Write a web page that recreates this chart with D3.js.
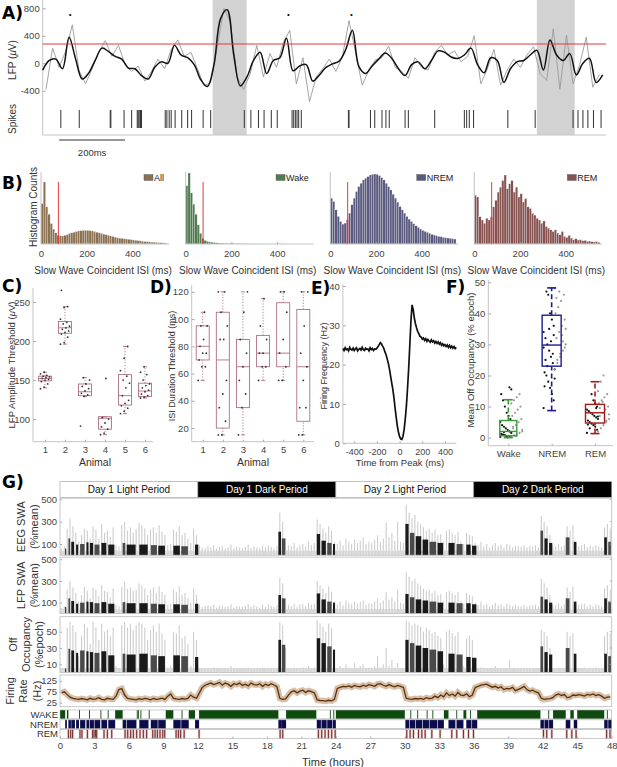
<!DOCTYPE html>
<html lang="en">
<head>
<meta charset="UTF-8">
<title>Slow wave off periods</title>
<script src="https://d3js.org/d3.v7.min.js"></script>
<style>
  body { margin: 0; background: #fff; }
  svg { display: block; font-family: "Liberation Sans", Arial, sans-serif; }
  .ax .tick text { fill: #444; font-size: 9.5px; font-family: "Liberation Sans", Arial, sans-serif; }
  .ax .tick line { stroke: #aaa; }
  .plet { font-family: "DejaVu Sans", sans-serif; font-weight: bold; font-size: 17px; fill: #000; }
</style>
</head>
<body>
<svg width="617" height="767"></svg>
<script>
// ---------- A: LFP trace and spikes ----------
const lfpStepMs = 20;
const lfpFiltered = [
  -100, 40, 60, -80, 380, 60, -230, -140, 50, 220,
  170, 100, 60, -70, -80, -180, -230, -60, 20, 0,
  260, 120, 80, -20, -240, -340, -20, 650, 780, 120,
  -330, -200, 40, 160, -150, 40, 80, 365, -110, -40,
  -20, -260, -170, -60, -10, 30, 200, 480, -50, -150,
  -40, 60, 150, 70, -80, -180, -20, 20, -80, 40,
  180, 160, 90, 70, 120, 220, -20, -140, 80, 40,
  -280, -80, 20, 40, 120, 190, -100, 340, 120, 40,
  140, -170, 0, 70, -280, -170
];
const lfpRawStartMs = 10;
const lfpRaw = [
  -380, 220, -60, 180, 560, -100, -300, -80, 160, 330,
  100, 260, -20, -120, -40, -260, -120, 60, -80, 200,
  340, 100, 160, -80, -330, -280, 240, 800, 600, -200,
  -380, -150, 260, -200, 140, -60, 300, 480, -300, 80,
  -560, -200, -80, 60, -120, 100, 620, 150, -320, -100,
  50, 80, 250, -60, -120, -220, 80, -60, -100, 160,
  260, 120, 180, 20, 100, 400, -300, -80, 200, -320,
  -100, 60, -60, 120, 240, -150, -250, 500, -380, 410,
  -300, -20, 380, -350, -160
];
const lfpThreshold = 280;
const spikeTimesMs = [55, 111, 205, 207, 247, 270, 287, 290, 293, 297, 300, 372, 377, 384, 390,
  402, 422, 440, 452, 487, 510, 612, 632, 655, 672, 694, 712, 757, 762, 767, 772, 777, 785,
  928, 930, 995, 1008, 1030, 1042, 1052, 1100, 1110, 1190, 1280, 1287, 1295, 1308, 1412,
  1495, 1610, 1625, 1640, 1655, 1672, 1695];
const offWindowsMs = [[516, 619], [1500, 1615]];
const peakMarksMs = [83, 746, 937];
const lfpTicks = [-400, 0, 400, 800];

// ---------- B: ISI histograms (10 ms bins, arbitrary counts) ----------
const isiBinMs = 10;
const isiCut = 76;
const isiAll = [650, 1000, 600, 480, 330, 240, 180, 140, 130, 130, 140, 150, 170, 180, 190, 200, 210, 215, 220, 220,
  220, 215, 210, 200, 190, 180, 170, 160, 150, 140, 130, 120, 110, 100, 95, 90, 85, 80, 75, 70,
  65, 60, 55, 50, 45, 40, 37, 34, 30, 28, 25, 22, 20, 18, 15];
const isiWake = [820, 1000, 720, 560, 420, 270, 150, 80, 50, 38, 30, 25, 20, 17, 14, 12, 10, 9, 8, 7,
  6, 5, 5, 4, 4, 3, 3, 3, 2, 2, 2, 2, 2, 1, 1, 1, 1, 1, 1, 1, 1, 1, 1, 0, 0, 0, 0, 0, 0, 0, 0, 0, 0, 0, 0];
const isiNrem = [138, 128, 103, 83, 68, 60, 63, 73, 93, 118, 138, 158, 173, 183, 193, 198, 203, 208, 210, 211,
  210, 206, 200, 193, 183, 173, 163, 150, 138, 126, 113, 103, 93, 83, 75, 68, 61, 55, 50, 45,
  41, 38, 35, 32, 29, 27, 25, 23, 22, 20, 19, 18, 17, 16, 15];
const isiRem = [148, 143, 83, 73, 63, 78, 73, 83, 113, 133, 158, 173, 193, 210, 168, 183, 193, 158, 173, 143,
  153, 128, 138, 113, 108, 93, 88, 78, 73, 63, 70, 53, 48, 43, 38, 43, 33, 28, 38, 23,
  20, 26, 18, 13, 16, 12, 13, 10, 11, 8, 9, 7, 6, 7, 5];
const isiTicks = [0, 200, 400];

// ---------- C: LFP amplitude threshold per animal ----------
const animals = [1, 2, 3, 4, 5, 6];
const ampBox = [ // [low whisker, q1, median, q3, high whisker]
  [140, 149, 152, 155, 160], [196, 210, 217, 225, 244], [129, 130, 135, 145, 153],
  [80, 87, 101, 103, 103], [107, 118, 130, 157, 193], [127, 129, 136, 146, 167]];
const ampPoints = [
  [139, 141, 145, 148, 150, 151, 152, 153, 154, 155, 156, 158, 160],
  [196, 198, 205, 209, 211, 213, 215, 217, 219, 222, 224, 228, 243, 244, 265],
  [91, 129, 131, 133, 136, 139, 142, 145, 150, 153],
  [80, 82, 87, 90, 95, 100, 102, 152],
  [107, 110, 114, 117, 120, 124, 130, 140, 146, 150, 155, 162, 178, 193],
  [127, 128, 130, 132, 135, 137, 140, 143, 145, 150, 157, 160, 167]];
const ampTicks = [100, 150, 200, 250];

// ---------- D: ISI duration threshold per animal ----------
const isiBox = [
  [55, 70, 80, 95, 105], [15, 20, 70, 105, 120], [15, 35, 65, 85, 120],
  [55, 65, 75, 88, 115], [55, 65, 75, 112, 120], [15, 25, 65, 107, 120]];
const isiPoints = [
  [55, 65, 65, 70, 75, 75, 80, 85, 95, 95, 105],
  [15, 15, 25, 35, 45, 55, 85, 85, 95, 105, 120, 120],
  [15, 35, 45, 55, 65, 75, 85, 105, 120],
  [55, 65, 65, 75, 75, 85, 95, 115],
  [55, 55, 65, 75, 85, 105, 120, 120],
  [15, 15, 35, 35, 55, 65, 75, 95, 120, 120]];
const durTicks = [20, 40, 60, 80, 100, 120];

// ---------- E: firing rate around LFP peak ----------
const peakStartMs = -500, peakStepMs = 10;
const peakRate = [
  24.1, 23.6, 24.3, 23.8, 24.0, 23.5, 24.4, 23.9, 23.7, 24.2, 23.6, 24.0, 24.3, 23.5, 23.9, 24.1,
  23.7, 24.4, 23.8, 23.6, 24.2, 23.9, 24.0, 23.5, 24.3, 23.8, 24.1, 23.6, 24.0, 23.9, 24.2,
  24.6, 25.1, 25.6, 25.3, 24.7, 24.2, 23.3, 22.6, 21.5, 20.4, 19.0, 17.2, 15.4, 13.8, 11.6, 9.0,
  6.6, 4.4, 2.8, 1.7, 1.1, 1.0, 1.8, 3.5, 6.2, 9.5, 14.0, 19.0, 25.0, 31.0, 35.2, 34.0, 31.8,
  30.4, 29.3, 28.4, 27.9, 27.2, 27.0, 26.5, 26.8, 26.2, 26.6, 25.9, 26.4, 26.0, 25.7, 26.3, 25.8,
  26.1, 25.5, 25.9, 25.4, 25.8, 25.2, 25.6, 24.9, 25.3, 24.8, 25.1, 24.6, 25.0, 24.4, 24.9, 24.3,
  24.7, 24.2, 24.6, 24.1, 24.4];
const peakXTicks = [-400, -200, 0, 200, 400];
const peakYTicks = [0, 10, 20, 30, 40];

// ---------- F: off occupancy by state ----------
const states = ["Wake", "NREM", "REM"];
const stateColors = ["#3a9a3a", "#1c1c8a", "#a01c1c"];
const occBox = [[0, 0.6, 2, 5.5, 12.2], [8.7, 23, 29.8, 39.4, 48.2], [1.3, 4.7, 8, 10.7, 18]];
const occA = [ // black points
  [0.2, 0.3, 0.5, 0.4, 0.8, 1.0, 1.2, 1.5, 2.0, 2.5, 3.0, 3.5, 4.0, 5.0, 6.0, 7.0, 8.0, 10.0, 12.0, 14.0, 15.5, 16.2, 0.1, 0.6, 1.8],
  [9.5, 12, 14, 16, 18, 20, 21, 22, 24, 26, 28, 30, 32, 34, 36, 38, 40, 46, 47, 16.5, 19, 27, 31, 35, 23, 25, 29, 33],
  [1.5, 2.5, 3.5, 4, 4.5, 5, 5.5, 6, 6.5, 7, 7.5, 8, 8.5, 9, 10, 11, 12, 14, 3, 4.2, 6.8, 9.5]];
const occB = [ // gray points
  [0.3, 0.7, 1.0, 1.5, 2.0, 3.0, 4.0, 5.0, 6.0, 7.0, 8.0, 9.0, 10.0, 11.0, 12.0, 13.0, 14.0, 2.5, 3.5, 0.5],
  [22, 24, 26, 28, 30, 32, 34, 36, 38, 40, 42, 44, 46, 48, 25, 27, 31, 35, 45, 47, 33, 29],
  [2, 3, 4, 5, 6, 7, 8, 9, 10, 11, 12, 13, 14, 15, 18, 20, 5.5, 7.5, 9.5, 11.5]];
const occTicks = [0, 10, 20, 30, 40, 50];

// ---------- G: 48 h recording ----------
const periods = ["Day 1 Light Period", "Day 1 Dark Period", "Day 2 Light Period", "Day 2 Dark Period"];
const periodHours = [[0, 12], [12, 24], [24, 36], [36, 48]];
const epochStepH = 0.25;
const eegSwa = [
  60, 80, 240, 330, 260, 200, 120, 180, 240, 220, 150, 260, 230, 150, 280, 200, 220, 160, 250, 90,
  80, 270, 300, 220, 250, 200, 230, 290, 270, 240, 180, 230, 250, 200, 270, 210, 180, 90, 100, 230,
  210, 260, 180, 200, 150, 110, 240, 180, 90, 70, 60, 80, 70, 90, 60, 75, 85, 60, 70, 95,
  60, 80, 70, 60, 75, 95, 65, 80, 70, 60, 85, 70, 90, 75, 60, 80, 380, 300, 150, 90,
  80, 110, 70, 90, 100, 80, 120, 90, 110, 320, 280, 240, 200, 260, 220, 120, 100, 130, 90, 150,
  120, 100, 140, 110, 130, 160, 100, 120, 110, 140, 180, 120, 150, 290, 160, 200, 130, 300, 120, 110,
  450, 380, 330, 360, 300, 280, 250, 220, 240, 200, 230, 180, 190, 120, 220, 230, 200, 180, 210, 120,
  100, 200, 180, 170, 110, 90, 120, 80, 100, 70, 90, 110, 80, 95, 70, 100, 90, 70, 85, 80,
  75, 90, 70, 85, 80, 90, 70, 350, 300, 260, 180, 90, 80, 100, 75, 90, 260, 220, 270, 100,
  80, 90, 100, 70, 85, 75, 90, 80, 70, 250, 280, 240];
const lfpSwa = [
  50, 70, 220, 300, 240, 190, 110, 170, 250, 210, 140, 240, 220, 160, 260, 210, 200, 150, 230, 80,
  70, 250, 290, 230, 240, 210, 220, 280, 260, 230, 170, 220, 240, 190, 250, 200, 170, 80, 90, 220,
  200, 250, 170, 190, 140, 100, 230, 170, 80, 60, 70, 75, 65, 80, 55, 70, 75, 60, 65, 85,
  55, 70, 65, 60, 70, 85, 60, 75, 65, 55, 80, 65, 85, 70, 60, 75, 330, 280, 140, 80,
  70, 90, 60, 80, 85, 70, 100, 80, 90, 300, 260, 230, 190, 250, 200, 110, 80, 110, 75, 120,
  100, 85, 110, 90, 105, 120, 80, 95, 90, 110, 140, 100, 120, 200, 130, 150, 110, 220, 100, 90,
  380, 340, 300, 320, 280, 260, 230, 210, 220, 190, 210, 170, 180, 110, 200, 210, 190, 170, 200, 110,
  90, 190, 170, 160, 100, 80, 110, 75, 90, 65, 80, 100, 75, 85, 65, 90, 80, 65, 75, 70,
  70, 80, 65, 75, 75, 80, 65, 320, 280, 240, 170, 80, 75, 90, 70, 85, 240, 200, 250, 90,
  75, 85, 90, 65, 80, 70, 85, 75, 65, 230, 260, 220];
const offOcc = [
  3, 5, 55, 62, 58, 50, 20, 45, 60, 55, 35, 62, 55, 40, 60, 50, 52, 45, 55, 8,
  5, 58, 62, 55, 60, 52, 58, 62, 60, 55, 40, 52, 58, 50, 60, 48, 40, 6, 8, 50,
  48, 58, 42, 45, 35, 8, 50, 40, 4, 3, 5, 3, 3, 6, 2, 4, 5, 3, 4, 8,
  3, 5, 4, 3, 4, 6, 3, 5, 3, 4, 6, 3, 5, 3, 4, 5, 62, 58, 30, 5,
  4, 6, 3, 5, 6, 4, 8, 5, 6, 64, 60, 56, 50, 60, 55, 20, 5, 8, 4, 10,
  6, 4, 12, 5, 8, 10, 4, 6, 5, 8, 20, 6, 10, 30, 8, 15, 6, 12, 4, 5,
  64, 62, 58, 60, 58, 56, 50, 55, 52, 48, 50, 45, 42, 10, 50, 52, 48, 45, 50, 20,
  8, 42, 45, 40, 5, 4, 6, 3, 4, 3, 5, 8, 3, 4, 2, 5, 15, 3, 4, 3,
  4, 5, 3, 4, 3, 5, 4, 52, 50, 45, 30, 5, 4, 6, 3, 5, 50, 45, 48, 6,
  4, 5, 6, 3, 5, 4, 6, 4, 3, 45, 50, 48];
const firingRate = [
  70, 75, 62, 50, 45, 42, 40, 44, 41, 38, 45, 40, 42, 48, 40, 38, 45, 42, 40, 55,
  85, 90, 60, 45, 42, 40, 38, 43, 40, 45, 42, 38, 44, 40, 42, 46, 40, 55, 65, 45,
  42, 40, 44, 41, 45, 60, 50, 45, 70, 95, 105, 110, 115, 108, 112, 118, 105, 115, 110, 100,
  112, 108, 115, 104, 110, 102, 115, 108, 106, 112, 100, 110, 104, 112, 106, 98, 45, 40, 42, 60,
  75, 80, 70, 78, 82, 72, 80, 76, 70, 38, 35, 34, 32, 36, 33, 40, 90, 95, 100, 98,
  102, 96, 104, 100, 98, 105, 100, 108, 104, 100, 110, 112, 105, 100, 108, 102, 98, 104, 100, 95,
  45, 42, 40, 44, 42, 45, 40, 48, 44, 46, 55, 48, 60, 52, 70, 58, 65, 55, 72, 60,
  58, 66, 52, 60, 95, 100, 105, 108, 110, 102, 96, 100, 92, 98, 85, 90, 88, 95, 80, 86,
  92, 100, 85, 78, 82, 74, 70, 45, 40, 42, 44, 48, 60, 65, 58, 62, 48, 50, 60, 58,
  62, 60, 55, 63, 60, 65, 58, 62, 55, 45, 50, 52];
const nremBouts = [
  [0.45, 0.6], [0.73, 0.95], [0.98, 1.3], [1.4, 1.65], [1.75, 2.2], [2.3, 2.55], [2.6, 2.95], [3.0, 3.5],
  [3.6, 4.1], [4.2, 4.8], [5.45, 5.75], [5.8, 6.65], [6.9, 7.7], [7.9, 8.5], [8.55, 9.2], [9.86, 10.5],
  [10.55, 11.2], [11.75, 12.1], [19.0, 19.3], [19.3, 19.67], [22.34, 22.7], [22.75, 23.2], [23.25, 23.7],
  [23.75, 24.0], [30.05, 30.4], [30.45, 30.9], [30.95, 31.5], [31.55, 32.1], [32.15, 32.8], [32.85, 33.4],
  [33.8, 34.4], [34.5, 35.1], [35.35, 35.8], [35.85, 36.3], [41.8, 42.1], [42.15, 42.5], [42.55, 42.9],
  [44.0, 44.4], [44.7, 45.0], [47.35, 47.65], [47.7, 48.0]];
const eegNrem = [60, 150, 120, 95, 100, 115, 110, 95, 110, 95, 110, 95, 95, 90, 85, 85, 80, 95, 210, 150,
  190, 130, 110, 100, 280, 200, 170, 140, 120, 110, 110, 100, 95, 85, 220, 150, 110, 160, 120, 160, 120];
const lfpNrem = [60, 140, 115, 90, 100, 110, 105, 95, 105, 90, 105, 95, 95, 90, 85, 85, 80, 90, 170, 140,
  185, 130, 110, 100, 180, 150, 130, 120, 110, 100, 100, 95, 95, 85, 155, 130, 100, 140, 110, 140, 110];
const offNrem = [5, 29, 27, 24, 27, 26, 25, 24, 26, 21, 23, 22, 23, 21, 20, 21, 20, 19, 40, 34,
  42, 36, 32, 28, 40, 36, 33, 30, 28, 26, 23, 22, 19, 18, 32, 25, 22, 30, 23, 23, 20];
const wakeBouts = [
  [0, 0.45], [0.6, 0.73], [1.66, 1.72], [2.53, 2.58], [3.52, 3.58], [4.15, 4.2], [4.8, 5.45], [6.68, 6.72],
  [6.78, 6.82], [7.0, 7.04], [7.72, 7.78], [9.2, 9.86], [10.58, 10.62], [11.2, 11.75], [12.1, 19.0],
  [19.67, 22.3], [23.48, 23.52], [23.78, 23.82], [24.0, 30.0], [30.48, 30.52], [31.08, 31.12], [31.9, 31.94],
  [32.4, 32.44], [33.4, 33.8], [34.48, 34.52], [35.1, 35.35], [35.68, 35.72], [36.3, 41.8], [42.48, 42.52],
  [42.9, 44.0], [44.4, 44.7], [45.0, 47.35], [47.58, 47.62]];
const remTimes = [0.73, 0.93, 1.10, 1.74, 1.91, 2.38, 2.84, 2.96, 3.08, 3.19, 3.83, 4.12, 4.50, 5.66, 5.89,
  6.15, 6.38, 6.67, 6.96, 7.25, 7.54, 8.07, 8.27, 8.47, 8.70, 8.94, 9.11, 10.1, 10.3, 10.5, 10.8, 12.1,
  19.15, 19.38, 22.48, 22.77, 23.06, 23.35, 23.64, 23.94, 30.17, 30.46, 30.75, 31.19, 31.48, 31.77, 32.35,
  33.07, 34.09, 34.52, 35.1, 35.54, 35.97, 42.06, 42.35, 42.79, 44.09, 44.53, 44.9, 47.56, 47.85];
const hourTicks = [0, 3, 6, 9, 12, 15, 18, 21, 24, 27, 30, 33, 36, 39, 42, 45, 48];

const svg = d3.select("svg");
const plain = d => String(d);

function txt(x, y, s, o = {}) {
  const t = svg.append("text")
    .attr("x", x).attr("y", y).attr("dy", "0.35em")
    .attr("text-anchor", o.anchor || "middle")
    .attr("font-size", o.size || 10)
    .attr("fill", o.fill || "#333")
    .text(s);
  if (o.rot) t.attr("transform", `rotate(-90 ${x} ${y})`);
  if (o.cls) t.attr("class", o.cls);
  return t;
}
function line(x1, y1, x2, y2, color, w = 1, dash = null) {
  return svg.append("line").attr("x1", x1).attr("y1", y1).attr("x2", x2).attr("y2", y2)
    .attr("stroke", color).attr("stroke-width", w).attr("stroke-dasharray", dash);
}
function leftTicks(scale, x, values, tick = 3, pad = 3) {
  const g = svg.append("g").attr("class", "ax").attr("transform", `translate(${x},0)`)
    .call(d3.axisLeft(scale).tickValues(values).tickFormat(plain).tickSize(-tick).tickPadding(pad).tickSizeOuter(0));
  g.select(".domain").remove();
  return g;
}
function bottomTicks(scale, y, values, tick = 3, pad = 5) {
  const g = svg.append("g").attr("class", "ax").attr("transform", `translate(0,${y})`)
    .call(d3.axisBottom(scale).tickValues(values).tickFormat(plain).tickSize(-tick).tickPadding(pad).tickSizeOuter(0));
  g.select(".domain").remove();
  return g;
}
const axisGray = "#c4c4c4";

// ===== Panel A =====
{
  const xA = d3.scaleLinear([0, 1710], [42.7, 606]);
  const yA = d3.scaleLinear([-400, 800], [90.7, 8.3]);
  svg.append("g").selectAll("rect").data(offWindowsMs).join("rect")
    .attr("x", d => xA(d[0])).attr("y", 0)
    .attr("width", d => xA(d[1]) - xA(d[0])).attr("height", 135)
    .attr("fill", "#d2d2d2");
  line(42.7, 0, 42.7, 135, axisGray);
  line(42.7, 135, 606, 135, axisGray);
  leftTicks(yA, 42.7, lfpTicks);
  svg.append("path").datum(lfpRaw)
    .attr("d", d3.line().x((d, i) => xA(lfpRawStartMs + i * lfpStepMs)).y(d => yA(d)))
    .attr("fill", "none").attr("stroke", "#9a9a9a").attr("stroke-width", 0.9);
  svg.append("path").datum(lfpFiltered)
    .attr("d", d3.line().curve(d3.curveCatmullRom).x((d, i) => xA(i * lfpStepMs)).y(d => yA(d)))
    .attr("fill", "none").attr("stroke", "#111").attr("stroke-width", 1.5);
  line(42.7, yA(lfpThreshold), 606, yA(lfpThreshold), "#e23a3a", 1.1);
  svg.append("g").selectAll("line").data(spikeTimesMs).join("line")
    .attr("x1", d => xA(d)).attr("x2", d => xA(d)).attr("y1", 110).attr("y2", 128)
    .attr("stroke", "#333").attr("stroke-width", 1);
  peakMarksMs.forEach(t => txt(xA(t), 14, "•", { size: 8, fill: "#111" }));
  line(xA(50), 140, xA(250), 140, "#333", 1.2);
  txt(xA(150), 153, "200ms", { size: 9.5 });
  txt(2, 13, "A)", { cls: "plet", anchor: "start" });
  const lab = txt(12, 60, "LFP (", { rot: true, size: 10 });
  lab.append("tspan").attr("font-style", "italic").text("μ");
  lab.append("tspan").text("V)");
  txt(12, 119, "Spikes", { rot: true, size: 10 });
}

// ===== Panel B =====
{
  const panels = [
    { name: "All", counts: isiAll, color: "#8b7051", x0: 41, top: 182 },
    { name: "Wake", counts: isiWake, color: "#4f7c4f", x0: 185.7, top: 173 },
    { name: "NREM", counts: isiNrem, color: "#5a5a7f", x0: 330.3, top: 174 },
    { name: "REM", counts: isiRem, color: "#875350", x0: 474.3, top: 175 }];
  const base = 244;
  panels.forEach(p => {
    const x = d3.scaleLinear([0, 560], [p.x0, p.x0 + 128]);
    const y = d3.scaleLinear([0, d3.max(p.counts)], [base, p.top]);
    const cutBin = Math.floor(isiCut / isiBinMs);
    svg.append("g").selectAll("rect").data(p.counts).join("rect")
      .attr("x", (d, i) => x(i * isiBinMs))
      .attr("width", x(isiBinMs) - x(0))
      .attr("y", d => y(d)).attr("height", d => base - y(d))
      .attr("fill", (d, i) => i === cutBin ? d3.interpolateRgb(p.color, "#e02020")(0.5) : p.color)
      .attr("stroke", "#f2f2f2").attr("stroke-width", 0.25);
    line(p.x0, 172, p.x0, base, axisGray);
    line(p.x0, base, p.x0 + 128, base, axisGray);
    line(x(isiCut), base, x(isiCut), 182, "#e23a3a", 1);
    bottomTicks(x, base, isiTicks, 2, 6);
    txt(p.x0 + 62, 270, "Slow Wave Coincident ISI (ms)", { size: 10 });
    const lt = txt(p.x0 + 123, 177.5, p.name, { size: 9, anchor: "end", fill: "#222" });
    const w = lt.node().getComputedTextLength();
    svg.append("rect").attr("x", p.x0 + 123 - w - 10).attr("y", 174.5).attr("width", 9).attr("height", 6)
      .attr("fill", p.color).attr("stroke", "#555").attr("stroke-width", 0.4);
  });
  txt(2, 183, "B)", { cls: "plet", anchor: "start" });
  txt(33, 207, "Histogram Counts", { rot: true, size: 10 });
}

// ===== Panels C and D =====
function boxPanel(x, y, boxes, points, left, right, bottom, top) {
  const col = "#b06f86";
  line(left, top, left, bottom, axisGray);
  line(left, bottom, right, bottom, axisGray);
  boxes.forEach((b, i) => {
    const cx = x(animals[i]), hw = 6.5;
    line(cx, y(b[3]), cx, y(b[4]), col, 0.9, "1.2,1.6");
    line(cx, y(b[0]), cx, y(b[1]), col, 0.9, "1.2,1.6");
    line(cx - 2, y(b[4]), cx + 2, y(b[4]), col, 0.9);
    line(cx - 2, y(b[0]), cx + 2, y(b[0]), col, 0.9);
    svg.append("rect").attr("x", cx - hw).attr("y", y(b[3])).attr("width", 2 * hw)
      .attr("height", y(b[1]) - y(b[3])).attr("fill", "none").attr("stroke", col).attr("stroke-width", 0.9);
    line(cx - hw, y(b[2]), cx + hw, y(b[2]), col, 0.9);
    svg.append("g").selectAll("circle").data(points[i]).join("circle")
      .attr("cx", (d, j) => cx + (((j * 37) % 11) / 10 - 0.5) * 9)
      .attr("cy", d => y(d)).attr("r", 0.9).attr("fill", "#333");
  });
}
{
  const xC = d3.scaleLinear([1, 6], [45, 145]);
  const yC = d3.scaleLinear([71, 268], [441.7, 288]);
  boxPanel(xC, yC, ampBox, ampPoints, 33, 153, 441.7, 288);
  leftTicks(yC, 33, ampTicks);
  bottomTicks(xC, 441.7, animals, 2, 5);
  txt(95, 462, "Animal", { size: 10.5 });
  txt(2, 286, "C)", { cls: "plet", anchor: "start" });
  const lab = txt(12, 365, "LFP Amplitude Threshold (", { rot: true, size: 9.5 });
  lab.append("tspan").attr("font-style", "italic").text("μ");
  lab.append("tspan").text("V)");

  const xD = d3.scaleLinear([1, 6], [202.7, 303.3]);
  const yD = d3.scaleLinear([10, 125], [441.7, 285]);
  boxPanel(xD, yD, isiBox, isiPoints, 191.7, 314, 441.7, 285);
  leftTicks(yD, 191.7, durTicks);
  bottomTicks(xD, 441.7, animals, 2, 5);
  txt(253, 462, "Animal", { size: 10.5 });
  txt(150, 287, "D)", { cls: "plet", anchor: "start" });
  txt(172, 366, "ISI Duration Threshold (ms)", { rot: true, size: 9 });
}

// ===== Panel E =====
{
  const xE = d3.scaleLinear([-500, 500], [342.9, 456.3]);
  const yE = d3.scaleLinear([0, 40], [443.3, 286]);
  line(342.9, 284, 342.9, 443.3, axisGray);
  line(342.9, 443.3, 456.3, 443.3, axisGray);
  leftTicks(yE, 342.9, peakYTicks);
  bottomTicks(xE, 443.3, peakXTicks, 2, 5).selectAll("text").style("font-size", "9px");
  svg.append("path").datum(peakRate)
    .attr("d", d3.line().x((d, i) => xE(peakStartMs + i * peakStepMs)).y(d => yE(d)))
    .attr("fill", "none").attr("stroke", "#111").attr("stroke-width", 1.7);
  txt(400, 463, "Time from Peak (ms)", { size: 9.5 });
  txt(311, 288, "E)", { cls: "plet", anchor: "start" });
  txt(324, 366, "Firing Frequency (Hz)", { rot: true, size: 9 });
}

// ===== Panel F =====
{
  const xF = d3.scalePoint(states, [508.3, 595]);
  const yF = d3.scaleLinear([-2.6, 50], [445.7, 282.3]);
  line(488.3, 280, 488.3, 445.7, axisGray);
  line(488.3, 445.7, 613, 445.7, axisGray);
  leftTicks(yF, 488.3, occTicks);
  bottomTicks(xF, 445.7, states, 2, 5);
  states.forEach((s, i) => {
    const cx = xF(s), b = occBox[i], c = stateColors[i], hw = i === 0 ? 8.5 : 9.5;
    svg.append("g").selectAll("circle").data(occA[i]).join("circle")
      .attr("cx", (d, j) => cx - 8 + ((j * 37) % 13) / 12 * 11)
      .attr("cy", d => yF(d)).attr("r", 1.1).attr("fill", "#111");
    svg.append("g").selectAll("circle").data(occB[i]).join("circle")
      .attr("cx", (d, j) => cx + 3 + ((j * 29) % 13) / 12 * 11)
      .attr("cy", d => yF(d)).attr("r", 1.1).attr("fill", "#9a9a9a");
    line(cx, yF(b[3]), cx, yF(b[4]), c, 1.6, "5,3");
    line(cx, yF(b[0]), cx, yF(b[1]), c, 1.6, "5,3");
    line(cx - 4.5, yF(b[4]), cx + 4.5, yF(b[4]), c, 1.6);
    line(cx - 4.5, yF(b[0]), cx + 4.5, yF(b[0]), c, 1.6);
    svg.append("rect").attr("x", cx - hw).attr("y", yF(b[3])).attr("width", 2 * hw)
      .attr("height", yF(b[1]) - yF(b[3])).attr("fill", "none").attr("stroke", c).attr("stroke-width", 1.4);
    line(cx - hw, yF(b[2]), cx + hw, yF(b[2]), c, 1.4);
  });
  txt(446, 287, "F)", { cls: "plet", anchor: "start" });
  txt(471, 360, "Mean Off Occupancy (% epoch)", { rot: true, size: 9.5 });
}

// ===== Panel G =====
{
  const xG = d3.scaleLinear([0, 48], [60, 611.7]);
  // header
  periods.forEach((p, i) => {
    const [a, b] = periodHours[i], dark = i % 2 === 1;
    svg.append("rect").attr("x", xG(a)).attr("y", 481.7).attr("width", xG(b) - xG(a)).attr("height", 15.6)
      .attr("fill", dark ? "#000" : "#fff").attr("stroke", "#999").attr("stroke-width", 0.6);
    txt((xG(a) + xG(b)) / 2, 489.5, p, { size: 10, fill: dark ? "#fff" : "#111" });
  });
  const rows = [
    { gray: eegSwa, dark: eegNrem, y: d3.scaleLinear([0, 510], [555.2, 498.2]), ticks: [100, 300, 500],
      labs: [["EEG SWA", 21], ["(%mean)", 34]] },
    { gray: lfpSwa, dark: lfpNrem, y: d3.scaleLinear([0, 520], [613.5, 557.1]), ticks: [100, 300, 500],
      labs: [["LFP SWA", 21], ["(%mean)", 34]] },
    { gray: offOcc, dark: offNrem, y: d3.scaleLinear([0, 68.4], [672.45, 616.7]), ticks: [10, 30, 50],
      labs: [["Off", 13], ["Occupancy", 26], ["(%epoch)", 39]] }];
  rows.forEach(r => {
    const [y0, y1] = r.y.range();
    svg.append("g").selectAll("line").data(r.gray).join("line")
      .attr("x1", (d, i) => xG((i + 0.5) * epochStepH)).attr("x2", (d, i) => xG((i + 0.5) * epochStepH))
      .attr("y1", y0).attr("y2", d => r.y(d))
      .attr("stroke", "#cdcdcd").attr("stroke-width", 1.1);
    svg.append("g").selectAll("line.base").data(r.gray).join("line")
      .attr("x1", (d, i) => xG(i * epochStepH)).attr("x2", (d, i) => xG((i + 1) * epochStepH))
      .attr("y1", y0 - 2.5).attr("y2", y0 - 2.5)
      .attr("stroke", "#d8d8d8").attr("stroke-width", 4);
    svg.append("g").selectAll("rect").data(nremBouts).join("rect")
      .attr("x", d => xG(d[0])).attr("width", d => Math.max(1, xG(d[1]) - xG(d[0]) - 0.8))
      .attr("y", (d, i) => r.y(r.dark[i])).attr("height", (d, i) => y0 - r.y(r.dark[i]))
      .attr("fill", (d, i) => i % 3 === 1 ? "#4a4a4a" : "#1a1a1a");
    svg.append("rect").attr("x", 60).attr("y", y1).attr("width", 551.7).attr("height", y0 - y1)
      .attr("fill", "none").attr("stroke", "#bbb").attr("stroke-width", 0.8);
    leftTicks(r.y, 60, r.ticks, 2, 3);
    r.ticks.forEach(t => line(611.7, r.y(t), 609.7, r.y(t), "#aaa", 0.8));
    const cy = (y0 + y1) / 2;
    r.labs.forEach(([s, lx]) => txt(lx, cy, s, { rot: true, size: 11 }));
  });
  // firing rate
  const yR = d3.scaleLinear([6.5, 152], [706.7, 675]);
  const frLine = d3.line().x((d, i) => xG((i + 0.5) * epochStepH)).y(d => yR(d));
  svg.append("path").datum(firingRate).attr("d", frLine)
    .attr("fill", "none").attr("stroke", "#a4703e").attr("stroke-width", 6).attr("stroke-opacity", 0.45);
  svg.append("path").datum(firingRate).attr("d", frLine)
    .attr("fill", "none").attr("stroke", "#5c2f08").attr("stroke-width", 1.3);
  svg.append("rect").attr("x", 60).attr("y", 675).attr("width", 551.7).attr("height", 31.7)
    .attr("fill", "none").attr("stroke", "#bbb").attr("stroke-width", 0.8);
  leftTicks(yR, 60, [25, 75, 125], 2, 3);
  [["Firing", 10], ["Rate", 23], ["(Hz)", 37]].forEach(([s, lx]) => txt(lx, 691, s, { rot: true, size: 11 }));
  // hypnogram
  const yS = d3.scaleBand(["WAKE", "NREM", "REM"], [710, 738.5]).paddingInner(0.1);
  const bh = yS.bandwidth();
  svg.append("g").selectAll("rect").data(wakeBouts).join("rect")
    .attr("x", d => xG(d[0])).attr("width", d => Math.max(0.9, xG(d[1]) - xG(d[0])))
    .attr("y", yS("WAKE")).attr("height", bh).attr("fill", "#0f4a0f");
  svg.append("g").selectAll("rect").data(nremBouts).join("rect")
    .attr("x", d => xG(d[0])).attr("width", d => Math.max(0.9, xG(d[1]) - xG(d[0])))
    .attr("y", yS("NREM")).attr("height", bh).attr("fill", "#0c0c4c");
  svg.append("g").selectAll("rect").data(remTimes).join("rect")
    .attr("x", d => xG(d) - 1.2).attr("width", 2.4)
    .attr("y", yS("REM")).attr("height", bh).attr("fill", "#dcb8b8");
  svg.append("g").selectAll("rect").data(remTimes).join("rect")
    .attr("x", d => xG(d) - 0.45).attr("width", 0.9)
    .attr("y", yS("REM")).attr("height", bh).attr("fill", "#6e1d1d");
  yS.domain().forEach(s => {
    svg.append("rect").attr("x", 60).attr("y", yS(s)).attr("width", 551.7).attr("height", bh)
      .attr("fill", "none").attr("stroke", "#aaa").attr("stroke-width", 0.6);
    txt(58, yS(s) + bh / 2, s, { size: 9.5, anchor: "end", fill: "#333" });
  });
  bottomTicks(xG, 738.5, hourTicks, 2, 4);
  txt(333, 762, "Time (hours)", { size: 11 });
  txt(2, 482, "G)", { cls: "plet", anchor: "start" });
}
</script>
</body>
</html>
